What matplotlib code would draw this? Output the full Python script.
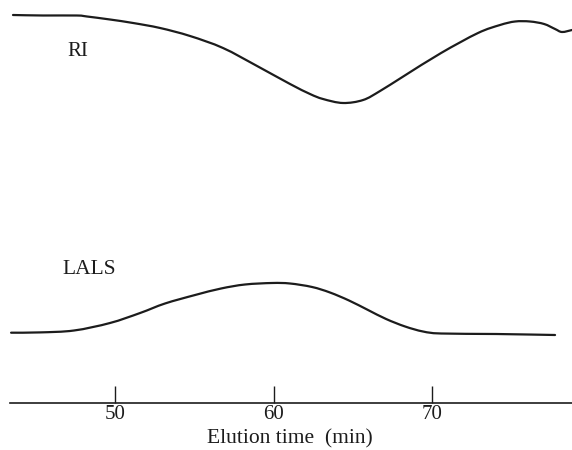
import matplotlib
matplotlib.use("Agg")
import matplotlib.pyplot as plt
from matplotlib.path import Path
from matplotlib.patches import PathPatch

# Elution time (min) and detector responses (arbitrary units)
ri_time = [43.56, 45.46, 47.60, 48.23, 49.68, 51.14, 52.84, 54.73, 56.81, 58.96,
           61.04, 62.30, 63.12, 64.38, 65.65, 66.72, 68.23, 70.57, 72.90, 74.29,
           75.24, 76.18, 77.07, 77.76, 78.20, 78.83]
ri_signal = [435, 434.5, 434.5, 433.5, 430.5, 427, 422, 414, 402, 384,
             366, 356, 351, 347, 350, 359, 374, 397, 417, 425,
             428.5, 428.5, 426, 421, 418, 420]

lals_time = [43.44, 45.27, 47.41, 49.68, 51.58, 53.15, 55.05, 56.69, 58.20, 59.91,
             61.04, 62.43, 63.56, 64.76, 65.96, 67.10, 68.30, 69.43, 70.57, 74.04, 77.76]
lals_signal = [117.3, 117.6, 119.5, 127, 137, 146.5, 155, 161.5, 165.5, 167,
               166.5, 163, 157.5, 149.5, 140, 131, 123.5, 118.5, 116.5, 116, 115]

xticks = [50, 60, 70]
xlabel = "Elution time  (min)"
series_labels = ["RI", "LALS"]

plt.rcParams['font.family'] = ['Liberation Serif', 'DejaVu Serif']

fig = plt.figure(figsize=(5.72, 4.5), dpi=100)
ax = fig.add_axes([0, 0, 1, 1])
ax.set_xlim(42.74, 78.83)
ax.set_ylim(0, 450)

ink = "#1c1c1c"


def smooth_path(xs, ys):
    # Catmull-Rom rendered as cubic Bezier segments through the read points
    pts = list(zip(xs, ys))
    verts = [pts[0]]
    codes = [Path.MOVETO]
    n = len(pts)
    for i in range(n - 1):
        p0 = pts[i - 1] if i > 0 else pts[i]
        p1 = pts[i]
        p2 = pts[i + 1]
        p3 = pts[i + 2] if i + 2 < n else pts[i + 1]
        c1 = (p1[0] + (p2[0] - p0[0]) / 6, p1[1] + (p2[1] - p0[1]) / 6)
        c2 = (p2[0] - (p3[0] - p1[0]) / 6, p2[1] - (p3[1] - p1[1]) / 6)
        verts += [c1, c2, p2]
        codes += [Path.CURVE4] * 3
    return Path(verts, codes)


for xs, ys in [(ri_time, ri_signal), (lals_time, lals_signal)]:
    ax.add_patch(PathPatch(smooth_path(xs, ys), fill=False, edgecolor=ink,
                           lw=1.6, capstyle='round', joinstyle='round'))

for s in ['top', 'right', 'left']:
    ax.spines[s].set_visible(False)
ax.spines['bottom'].set_position(('data', 47.3))
ax.spines['bottom'].set_bounds(43.37, 78.83)
ax.spines['bottom'].set_linewidth(1.2)
ax.spines['bottom'].set_color(ink)
ax.set_yticks([])
ax.set_xticks(xticks)
ax.tick_params(axis='x', direction='in', length=12.5, width=1.0, color=ink,
               labelsize=15, pad=2, labelcolor=ink)

ax.text(47.67, 398, series_labels[0], fontsize=15, ha='center', va='center', color=ink)
ax.text(46.66, 181, series_labels[1], fontsize=15.5, ha='left', va='center', color=ink)
ax.text(61.04, 11, xlabel, fontsize=15.5, ha='center', va='center', color=ink)

fig.savefig("out.png", dpi=100)
